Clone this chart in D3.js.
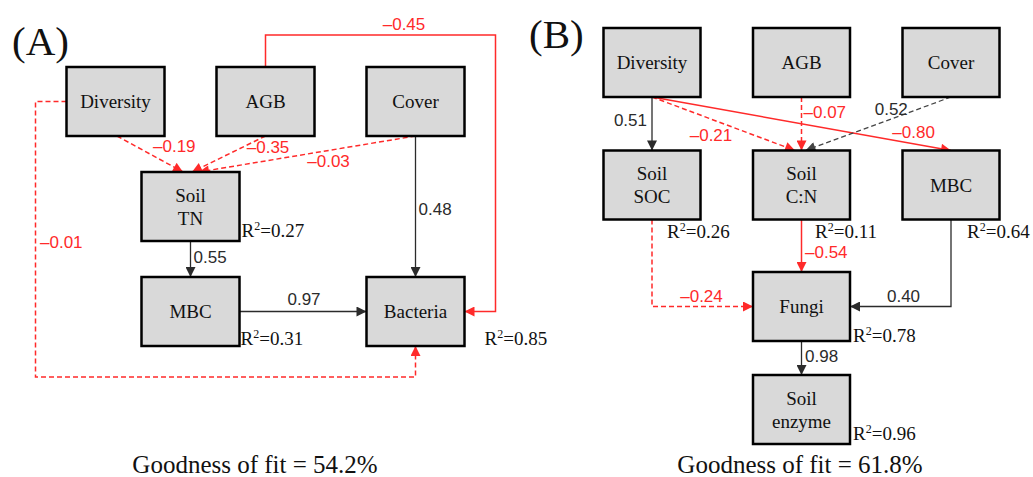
<!DOCTYPE html>
<html>
<head>
<meta charset="utf-8">
<script src="https://cdn.jsdelivr.net/npm/d3@7"></script>
<style>
  html, body { margin: 0; padding: 0; background: #fff; }
  svg { display: block; }
</style>
</head>
<body>
<svg id="Viz"></svg>
<script>
var width = 1033,
    height = 477;

// ---- data ----
var panelTitles = ["(A)", "(B)"];
var fitValues = [54.2, 61.8];

var nodesA = ["Diversity", "AGB", "Cover", "Soil\nTN", "MBC", "Bacteria"];
var r2A = [null, null, null, 0.27, 0.31, 0.85];
// from, to, coefficient, significant?
var pathsA = [
  ["Diversity", "Soil\nTN", -0.19, false],
  ["AGB", "Soil\nTN", -0.35, false],
  ["Cover", "Soil\nTN", -0.03, false],
  ["Cover", "Bacteria", 0.48, true],
  ["Soil\nTN", "MBC", 0.55, true],
  ["MBC", "Bacteria", 0.97, true],
  ["AGB", "Bacteria", -0.45, true],
  ["Diversity", "Bacteria", -0.01, false]
];

var nodesB = ["Diversity", "AGB", "Cover", "Soil\nSOC", "Soil\nC:N", "MBC", "Fungi", "Soil\nenzyme"];
var r2B = [null, null, null, 0.26, 0.11, 0.64, 0.78, 0.96];
var pathsB = [
  ["Diversity", "Soil\nSOC", 0.51, true],
  ["Diversity", "Soil\nC:N", -0.21, false],
  ["Diversity", "MBC", -0.80, true],
  ["AGB", "Soil\nC:N", -0.07, false],
  ["Cover", "Soil\nC:N", 0.52, false],
  ["Soil\nC:N", "Fungi", -0.54, true],
  ["Soil\nSOC", "Fungi", -0.24, false],
  ["MBC", "Fungi", 0.40, true],
  ["Fungi", "Soil\nenzyme", 0.98, true]
];

// ---- layout ----
var layoutA = {
  x: d3.scaleLinear().domain([0, 4]).range([115.5, 415.5]),
  y: d3.scaleLinear().domain([0, 2]).range([101.5, 311.5]),
  boxW: 98, boxH: 69,
  title: [12, 55], fit: [255, 473],
  grid: {"Diversity": [0, 0], "AGB": [2, 0], "Cover": [4, 0], "Soil\nTN": [1, 1], "MBC": [1, 2], "Bacteria": [4, 2]},
  r2: {"Soil\nTN": [2, -4], "MBC": [1, -1], "Bacteria": [20, -1]},
  // route, source/target offsets, label placement [segment, t, dx, dy, anchor]
  routes: [
    {type: "line", s: ["b", 1.5], t: ["t", -7.5], lab: [0, 0.5, 3, -2, "start"]},
    {type: "line", s: ["b", 0], t: ["t", 1.5], lab: [0, 0.5, 18, -1, "start"]},
    {type: "line", s: ["b", 0], t: ["t", 8.5], lab: [0, 0.5, 0, 13, "start"]},
    {type: "line", s: ["b", 0], t: ["t", 0], lab: [0, 0.5, 3, 8.5, "start"]},
    {type: "line", s: ["b", 0], t: ["t", 0], lab: [0, 0.5, 3, 4, "start"]},
    {type: "line", s: ["r", 0], t: ["l", 0], lab: [0, 0.5, 1, -6.5, "middle"]},
    {type: "over", gap: 32, gap2: 31, lab: [1, 0.5, 23.5, -5, "middle"]},
    {type: "under", gap: 31, gap2: 31, lab: [1, 0.5, 4.5, 9, "start"]}
  ]
};

var layoutB = {
  x: d3.scaleLinear().domain([0, 2]).range([652, 951]),
  y: d3.scaleLinear().domain([0, 1, 2, 3]).range([62.5, 185, 306.5, 409.5]),
  boxW: 97, boxH: 69,
  title: [529, 48], fit: [800, 473],
  grid: {"Diversity": [0, 0], "AGB": [1, 0], "Cover": [2, 0], "Soil\nSOC": [0, 1], "Soil\nC:N": [1, 1],
         "MBC": [2, 1], "Fungi": [1, 2], "Soil\nenzyme": [1, 3]},
  r2: {"Soil\nSOC": [-33.5, 18.5], "Soil\nC:N": [-35, 18.5], "MBC": [-32.5, 18.5], "Fungi": [3, 1], "Soil\nenzyme": [3, -4]},
  routes: [
    {type: "line", s: ["b", 0], t: ["t", 0], lab: [0, 0.5, -5, 2, "end"]},
    {type: "line", s: ["b", 0], t: ["t", -6.5], lab: [0, 0.5, -12.5, 17, "middle"]},
    {type: "line", s: ["b", 0], t: ["t", 0], lab: [0, 0.875, 0, -6, "middle"]},
    {type: "line", s: ["b", 0], t: ["t", 0], lab: [0, 0.5, 2, -6, "start"]},
    {type: "line", s: ["b", 0], t: ["t", 4], lab: [0, 0.5, 13, -9, "middle"]},
    {type: "line", s: ["b", 0], t: ["t", 0], lab: [0, 0.5, 3.5, 12, "start"]},
    {type: "elbow", lab: [1, 0.5, -1, -4.5, "middle"]},
    {type: "elbow", lab: [1, 0.5, 3, -4.5, "middle"]},
    {type: "line", s: ["b", 0], t: ["t", 0], lab: [0, 0.5, 3.5, 4, "start"]}
  ]
};

var RED = "#ff2a2a", DARK = "#2b2b2b", GREY = "#444";
var serif = "'Liberation Serif', 'Times New Roman', serif";
var sans = "'Liberation Sans', Arial, sans-serif";

var svg = d3.select("#Viz").attr("width", width).attr("height", height);

var defs = svg.append("defs");
[["red", RED], ["dark", DARK], ["grey", GREY]].forEach(function(m) {
  defs.append("marker")
    .attr("id", "arrow-" + m[0])
    .attr("viewBox", "0 0 10 10")
    .attr("refX", 10).attr("refY", 5)
    .attr("markerWidth", 11).attr("markerHeight", 10)
    .attr("markerUnits", "userSpaceOnUse")
    .attr("orient", "auto")
    .append("path")
      .attr("d", "M0,0 L10,5 L0,10 z")
      .attr("fill", m[1]);
});

function fmt(v) {
  return (v < 0 ? "\u2013" : "") + Math.abs(v).toFixed(2);
}

function drawPanel(idx, nodes, r2, paths, L) {
  var g = svg.append("g");

  function box(name) {
    var p = L.grid[name];
    var cx = L.x(p[0]), cy = L.y(p[1]);
    return {cx: cx, cy: cy, l: cx - L.boxW / 2, r: cx + L.boxW / 2, t: cy - L.boxH / 2, b: cy + L.boxH / 2};
  }
  function anchor(b, side, off) {
    if (side == "b") return [b.cx + off, b.b];
    if (side == "t") return [b.cx + off, b.t];
    if (side == "l") return [b.l, b.cy + off];
    return [b.r, b.cy + off];
  }

  // paths
  paths.forEach(function(p, i) {
    var R = L.routes[i];
    var s = box(p[0]), t = box(p[1]);
    var pts;
    if (R.type == "line") {
      pts = [anchor(s, R.s[0], R.s[1]), anchor(t, R.t[0], R.t[1])];
    } else if (R.type == "over") {
      var top = s.t - R.gap, rx = t.r + R.gap2;
      pts = [[s.cx, s.t], [s.cx, top], [rx, top], [rx, t.cy], [t.r, t.cy]];
    } else if (R.type == "under") {
      var lx = s.l - R.gap, by = t.b + R.gap2;
      pts = [[s.l, s.cy], [lx, s.cy], [lx, by], [t.cx, by], [t.cx, t.b]];
    } else {
      var side = s.cx < t.cx ? t.l : t.r;
      pts = [[s.cx, s.b], [s.cx, t.cy], [side, t.cy]];
    }
    var col = p[2] < 0 ? RED : (p[3] ? DARK : GREY);
    var mk = p[2] < 0 ? "red" : (p[3] ? "dark" : "grey");

    g.append("path")
      .attr("d", d3.line()(pts))
      .attr("fill", "none")
      .attr("stroke", col)
      .attr("stroke-width", p[2] < 0 ? 1.5 : 1.3)
      .attr("stroke-dasharray", p[3] ? null : "5,3")
      .attr("marker-end", "url(#arrow-" + mk + ")");

    var seg = R.lab[0], a = pts[seg], b = pts[seg + 1];
    var lx2 = a[0] + (b[0] - a[0]) * R.lab[1] + R.lab[2];
    var ly2 = a[1] + (b[1] - a[1]) * R.lab[1] + R.lab[3];
    g.append("text")
      .attr("x", lx2).attr("y", ly2)
      .attr("text-anchor", R.lab[4])
      .attr("font-family", sans)
      .attr("font-size", 17)
      .attr("fill", p[2] < 0 ? RED : DARK)
      .text(fmt(p[2]));
  });

  // boxes
  nodes.forEach(function(n, i) {
    var b = box(n);
    g.append("rect")
      .attr("x", b.l).attr("y", b.t)
      .attr("width", L.boxW).attr("height", L.boxH)
      .attr("fill", "#d9d9d9")
      .attr("stroke", "#000")
      .attr("stroke-width", 2.5);
    var lines = n.split("\n");
    var txt = g.append("text")
      .attr("text-anchor", "middle")
      .attr("font-family", serif)
      .attr("font-size", 19)
      .attr("fill", "#111");
    lines.forEach(function(line, k) {
      txt.append("tspan")
        .attr("x", b.cx)
        .attr("y", b.cy + 6.5 + (k - (lines.length - 1) / 2) * 23)
        .text(line);
    });
    if (r2[i] != null) {
      var o = L.r2[n];
      var rt = g.append("text")
        .attr("x", b.r + o[0]).attr("y", b.b + o[1])
        .attr("font-family", serif)
        .attr("font-size", 19)
        .attr("fill", "#111");
      rt.append("tspan").text("R");
      rt.append("tspan").attr("font-size", 12).attr("dy", -7).text("2");
      rt.append("tspan").attr("dy", 7).text("=" + r2[i].toFixed(2));
    }
  });

  g.append("text")
    .attr("x", L.title[0]).attr("y", L.title[1])
    .attr("font-family", serif)
    .attr("font-size", 41)
    .attr("fill", "#111")
    .text(panelTitles[idx]);

  g.append("text")
    .attr("x", L.fit[0]).attr("y", L.fit[1])
    .attr("text-anchor", "middle")
    .attr("font-family", serif)
    .attr("font-size", 25)
    .attr("fill", "#111")
    .text("Goodness of fit = " + fitValues[idx].toFixed(1) + "%");
}

drawPanel(0, nodesA, r2A, pathsA, layoutA);
drawPanel(1, nodesB, r2B, pathsB, layoutB);
</script>
</body>
</html>
